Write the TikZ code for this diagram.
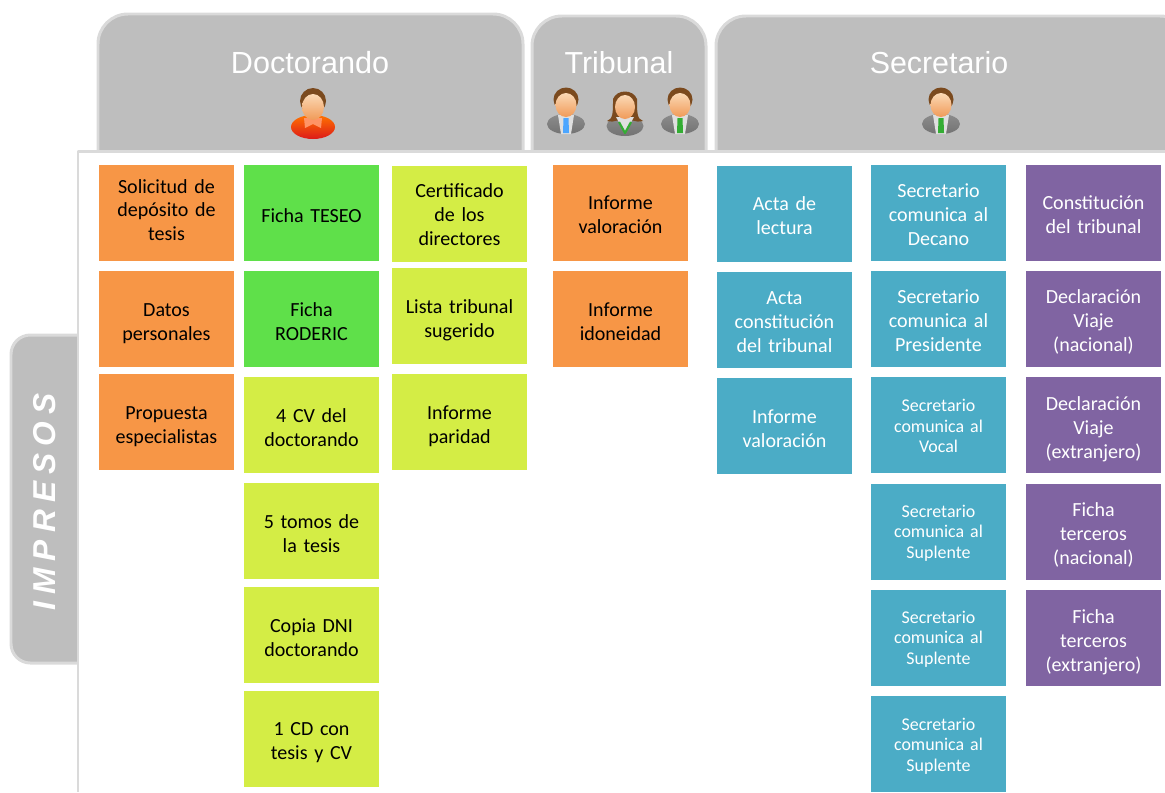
\documentclass[tikz,border=0pt]{standalone}
\usepackage{fontspec}
\setmainfont{Carlito}
\newfontfamily\headfont{Liberation Sans}
\usetikzlibrary{positioning,calc,shadings}
\definecolor{tabfill}{HTML}{BEBEBE}
\definecolor{tabline}{HTML}{DADADA}
\definecolor{boxorange}{HTML}{F79646}
\definecolor{boxgreen}{HTML}{5FE04A}
\definecolor{boxlime}{HTML}{D4ED45}
\definecolor{boxblue}{HTML}{4BACC6}
\definecolor{boxpurple}{HTML}{8064A2}
\definecolor{hairbrown}{HTML}{7B4A1E}
\definecolor{skinlight}{HTML}{FBD9B5}
\definecolor{skindark}{HTML}{F09A58}
\tikzset{
  tab/.style={draw=tabline,fill=tabfill,line width=1.7pt},
  tabtitle/.style={text=white,font=\headfont\fontsize{17.3}{20}\selectfont,inner sep=0pt},
  card/.style={minimum width=76.6pt,minimum height=54.5pt,inner sep=0pt},
  cardtext/.style={inner sep=0pt,text width=76pt,align=center,font=\fontsize{11.4}{13.6}\selectfont},
  cardsmall/.style={cardtext,font=\fontsize{10.2}{11.7}\selectfont}
}
\newcommand \mydrawcard[7]
{
\node[card,fill=#4,label={[#5,yshift={-(#6)*0.567pt}]center:{#7}}] (#1) at (#2,#3) {};
}
\newcommand \mydrawman[3]
{
\begin{scope}[shift={(#1,#2)}]
\shade[top color=gray!90,bottom color=gray!90!black] (0,36) ellipse (19 and 10);
\fill[gray!25] (-8,27)--(8,27)--(5,46)--(-5,46)--cycle;
\fill[#3] (-2.5,30)--(2.5,30)--(3,45)--(-3,45)--cycle;
\fill[hairbrown] (0,11.5) ellipse (12.5 and 12);
\shade[top color=skinlight,bottom color=skindark] (0,17) ellipse (10.5 and 12);
\end{scope}
}
\newcommand \mydrawwoman[2]
{
\begin{scope}[shift={(#1,#2)}]
\shade[top color=gray!90,bottom color=gray!90!black] (0,35) ellipse (18.5 and 10);
\fill[hairbrown] (-12,8) .. controls (-12,22) and (-12,28) .. (-18,30) .. controls (-10,32) and (-4,28) .. (0,26)
  .. controls (4,28) and (10,32) .. (18,30) .. controls (12,28) and (12,22) .. (12,8) .. controls (8,-2) and (-8,-2) .. (-12,8);
\fill[gray!25] (-9,26)--(9,26)--(0,42)--cycle;
\draw[green!60!black!80,line width=1.2pt] (-6,31)--(0,42)--(6,31);
\shade[top color=skinlight,bottom color=skindark] (0,16) ellipse (10 and 12);
\end{scope}
}
\newcommand \mydrawstudent[2]
{
\begin{scope}[shift={(#1,#2)}]
\shade[top color=orange!90!red,bottom color=red!85!black!90] (0,38) ellipse (22 and 12);
\fill[red!40!orange!60] (-9,29)--(9,29)--(8,39)--(0,35)--(-8,39)--cycle;
\fill[hairbrown] (0,12) ellipse (13 and 13);
\shade[top color=skinlight,bottom color=skindark] (0,18) ellipse (11 and 13);
\end{scope}
}
\begin{document}
\begin{tikzpicture}[x=0.02cm,y=-0.02cm,line join=round]
\useasboundingbox (0,0) rectangle (1165,792);
\clip (0,0) rectangle (1165,792);
\draw[tab] (98,151) [rounded corners=17pt] |- (523,14) [sharp corners] -- (523,151);
\draw[tab] (532,151) [rounded corners=17pt] |- (706,16) [sharp corners] -- (706,151);
\draw[tab] (716,151) [rounded corners=17pt] |- (1190,16) [sharp corners] -- (1190,151);
\draw[tab] (78,335) [rounded corners=11pt] -| (11,663) [sharp corners] -- (78,663);
\draw[tabline,line width=1.7pt] (1165,151)--(78,151)--(78,792);
\node[tabtitle,font=\headfont\fontsize{17.4}{20}\selectfont] (doctorando) at (310,63) {Doctorando};
\node[tabtitle] (tribunal) at (619,63) {Tribunal};
\node[tabtitle] (secretario) at (939,63) {Secretario};
\node[tabtitle,rotate=90,font=\headfont\itshape\bfseries\addfontfeature{LetterSpace=23}\fontsize{18}{20}\selectfont] (impresos) at (45,502) {IMPRESOS};
\mydrawstudent{313}{89}
\mydrawman{566}{88}{blue!50!cyan!70}
\mydrawwoman{625}{91}
\mydrawman{680}{88}{green!60!black!80}
\mydrawman{941}{88}{green!60!black!80}
\mydrawcard{solicitud}{166.5}{213}{boxorange}{cardtext}{-3}{Solicitud de\\depósito de\\tesis}
\mydrawcard{datos}{166.5}{319}{boxorange}{cardtext}{5}{Datos\\personales}
\mydrawcard{propuesta}{166.5}{422}{boxorange}{cardtext}{5}{Propuesta\\especialistas}
\mydrawcard{teseo}{311.5}{213}{boxgreen}{cardtext}{3}{Ficha TESEO}
\mydrawcard{roderic}{311.5}{319}{boxgreen}{cardtext}{3}{Ficha\\RODERIC}
\mydrawcard{cv}{311.5}{425}{boxlime}{cardtext}{3}{4 CV del\\doctorando}
\mydrawcard{tomos}{311.5}{531}{boxlime}{cardtext}{3}{5 tomos de\\la tesis}
\mydrawcard{dni}{311.5}{635}{boxlime}{cardtext}{3}{Copia DNI\\doctorando}
\mydrawcard{cd}{311.5}{739}{boxlime}{cardtext}{4}{1 CD con\\tesis y CV}
\mydrawcard{certificado}{459.5}{214}{boxlime}{cardtext}{1}{Certificado\\de los\\directores}
\mydrawcard{lista}{459.5}{316}{boxlime}{cardtext}{4}{Lista tribunal\\sugerido}
\mydrawcard{paridad}{459.5}{422}{boxlime}{cardtext}{4}{Informe\\paridad}
\mydrawcard{valoracion}{620.5}{213}{boxorange}{cardtext}{2}{Informe\\valoración}
\mydrawcard{idoneidad}{620.5}{319}{boxorange}{cardtext}{3}{Informe\\idoneidad}
\mydrawcard{acta}{784.5}{214}{boxblue}{cardtext,text=white}{2}{Acta de\\lectura}
\mydrawcard{constitucion}{784.5}{320}{boxblue}{cardtext,text=white}{2}{Acta\\constitución\\del tribunal}
\mydrawcard{informe}{784.5}{426}{boxblue}{cardtext,text=white}{3}{Informe\\valoración}
\mydrawcard{decano}{938.5}{213}{boxblue}{cardtext,text=white}{2}{Secretario\\comunica al\\Decano}
\mydrawcard{presidente}{938.5}{319}{boxblue}{cardtext,text=white}{2}{Secretario\\comunica al\\Presidente}
\mydrawcard{vocal}{938.5}{425}{boxblue}{cardsmall,text=white}{1}{Secretario\\comunica al\\Vocal}
\mydrawcard{suplentea}{938.5}{532}{boxblue}{cardsmall,text=white}{1}{Secretario\\comunica al\\Suplente}
\mydrawcard{suplenteb}{938.5}{638}{boxblue}{cardsmall,text=white}{1}{Secretario\\comunica al\\Suplente}
\mydrawcard{suplentec}{938.5}{744}{boxblue}{cardsmall,text=white}{2}{Secretario\\comunica al\\Suplente}
\mydrawcard{tribunalc}{1093.5}{213}{boxpurple}{cardtext,text=white}{2}{Constitución\\del tribunal}
\mydrawcard{viajen}{1093.5}{319}{boxpurple}{cardtext,text=white}{3}{Declaración\\Viaje\\(nacional)}
\mydrawcard{viajee}{1093.5}{425}{boxpurple}{cardtext,text=white}{4}{Declaración\\Viaje\\(extranjero)}
\mydrawcard{terceron}{1093.5}{532}{boxpurple}{cardtext,text=white}{3}{Ficha\\terceros\\(nacional)}
\mydrawcard{terceroe}{1093.5}{638}{boxpurple}{cardtext,text=white}{4}{Ficha\\terceros\\(extranjero)}
\end{tikzpicture}
\end{document}
